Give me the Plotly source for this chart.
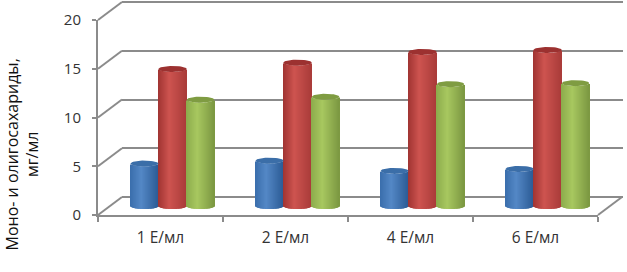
import numpy as np
import plotly.graph_objects as go

categories = ["1 Е/мл", "2 Е/мл", "4 Е/мл", "6 Е/мл"]
series_a = [4.35, 4.65, 3.6, 3.8]
series_b = [14.05, 14.7, 15.8, 16.0]
series_c = [10.9, 11.2, 12.5, 12.6]
y_ticks = [0, 5, 10, 15, 20]
y_title = "Моно- и олигосахариды,<br>мг/мл"

W, H = 627, 272
FONT = "Open Sans"
GRID = "#8b8b8b"


def px(v):
    return v / W


def py(v):
    return 1 - v / H


# depth of the 3D box, in pixels
FX0, FX1, FY0, FY20 = 98, 598, 215, 20
DX, DY = 24, 18
BAR_Y0 = 206
UNIT = (FY0 - FY20) / 20

styles = [
    ((58, 110, 172), (84, 136, 198), (44, 92, 150), "#3b6ea8", -0.224, 0.224),
    ((160, 52, 50), (206, 84, 80), (170, 60, 58), "#9c3130", 0.0, 0.228),
    ((140, 172, 76), (168, 200, 96), (124, 152, 66), "#7f9c42", 0.224, 0.220),
]
values = [series_a, series_b, series_c]


def shade(c0, c1, c2, t):
    if t < 0.4:
        k = t / 0.4
        a, b = c0, c1
    else:
        k = (t - 0.4) / 0.6
        a, b = c1, c2
    return "rgb(%d,%d,%d)" % tuple(a[i] + (b[i] - a[i]) * k for i in range(3))


fig = go.Figure()

# back wall gridlines
fig.add_trace(go.Scatter(x=[0], y=[0], mode="lines", xaxis="x", yaxis="y",
                         hoverinfo="skip", showlegend=False))
# front axes
fig.add_trace(go.Scatter(x=[0], y=[0], mode="lines", xaxis="x2", yaxis="y2",
                         hoverinfo="skip", showlegend=False))

N = 28
ELL_H = 3.0 / UNIT
for vals, st in zip(values, styles):
    c0, c1, c2, top, off, wid = st
    edges = np.linspace(-1, 1, N + 1)
    mids = (edges[:-1] + edges[1:]) / 2
    xs, bases, heights, cols = [], [], [], []
    for i, v in enumerate(vals):
        for m in mids:
            sag = ELL_H * np.sqrt(max(0, 1 - m * m))
            xs.append(i + 0.5 + off + m * wid / 2)
            bases.append(-sag)
            heights.append(v)
            cols.append(shade(c0, c1, c2, (m + 1) / 2))
    fig.add_trace(go.Bar(x=xs, y=heights, base=bases, width=wid / N * 1.5,
                         marker=dict(color=cols, line=dict(width=0)),
                         xaxis="x3", yaxis="y3", hoverinfo="skip", showlegend=False))
    ex, ey = [], []
    theta = np.linspace(0, 2 * np.pi, 41)
    for i, v in enumerate(vals):
        ex += list(i + 0.5 + off + wid / 2 * np.cos(theta)) + [None]
        ey += list(v + ELL_H * np.sin(theta)) + [None]
    fig.add_trace(go.Scatter(x=ex, y=ey, mode="lines", fill="toself", fillcolor=top,
                             line=dict(width=0, color=top), xaxis="x3", yaxis="y3",
                             hoverinfo="skip", showlegend=False))

# diagonal edges of the floor and side wall
shapes = []
for t in y_ticks:
    y_front = FY0 - t * UNIT
    shapes.append(dict(type="line", xref="paper", yref="paper",
                       x0=px(FX0), y0=py(y_front), x1=px(FX0 + DX), y1=py(y_front - DY),
                       line=dict(color=GRID, width=2), layer="below"))
shapes.append(dict(type="line", xref="paper", yref="paper",
                   x0=px(FX1), y0=py(FY0), x1=px(FX1 + DX), y1=py(FY0 - DY),
                   line=dict(color=GRID, width=2), layer="below"))

PAD = 0.2  # value units beyond 0 and 20 so the edge gridlines are kept
fig.update_layout(
    width=W, height=H, margin=dict(l=0, r=0, t=0, b=0, pad=0, autoexpand=False),
    paper_bgcolor="white", plot_bgcolor="rgba(0,0,0,0)",
    barmode="overlay", showlegend=False, shapes=shapes,
    font=dict(family=FONT, color="#333333"),
    xaxis=dict(domain=[px(FX0 + DX), px(FX1 + DX + 1)], range=[0, 1], visible=False, anchor="y"),
    yaxis=dict(domain=[py(FY0 - DY + PAD * UNIT), py(FY20 - DY - PAD * UNIT)],
               range=[-PAD, 20 + PAD], anchor="x",
               tickvals=y_ticks, showticklabels=False, ticks="", showline=False,
               showgrid=True, gridcolor=GRID, gridwidth=2, zeroline=False),
    xaxis2=dict(domain=[px(FX0), px(FX1)], range=[0, 4], anchor="y2",
                tickvals=[0.5, 1.5, 2.5, 3.5], ticktext=categories,
                minor=dict(tickvals=[0, 1, 2, 3, 4], ticks="outside", ticklen=5,
                           tickcolor=GRID, tickwidth=2, showgrid=False),
                showline=True, linecolor=GRID, linewidth=2, ticks="", showgrid=False,
                zeroline=False, ticklabelstandoff=7,
                tickfont=dict(size=15.5, color="#333333", family=FONT)),
    yaxis2=dict(domain=[py(FY0), py(FY20)], range=[0, 20], anchor="x2",
                tickvals=y_ticks, showline=True, linecolor=GRID, linewidth=2,
                ticks="outside", ticklen=4, tickcolor=GRID, tickwidth=2,
                showgrid=False, zeroline=False, ticklabelstandoff=8,
                tickfont=dict(size=15, color="#333333", family=FONT)),
    xaxis3=dict(domain=[px(FX0 + 12), px(FX1 + 12)], range=[0, 4], visible=False, anchor="y3"),
    yaxis3=dict(domain=[py(BAR_Y0 + UNIT), py(BAR_Y0 - 20 * UNIT)], range=[-1, 20],
                visible=False, anchor="x3"),
    annotations=[dict(text=y_title, xref="paper", yref="paper", x=px(21.5), y=py(155),
                      xanchor="center", yanchor="middle", textangle=-90, showarrow=False,
                      align="center", font=dict(size=16, color="#111111", family=FONT))],
)

fig.write_html("out.html", config=dict(displayModeBar=False),
               post_script="document.body.style.margin='0';")
